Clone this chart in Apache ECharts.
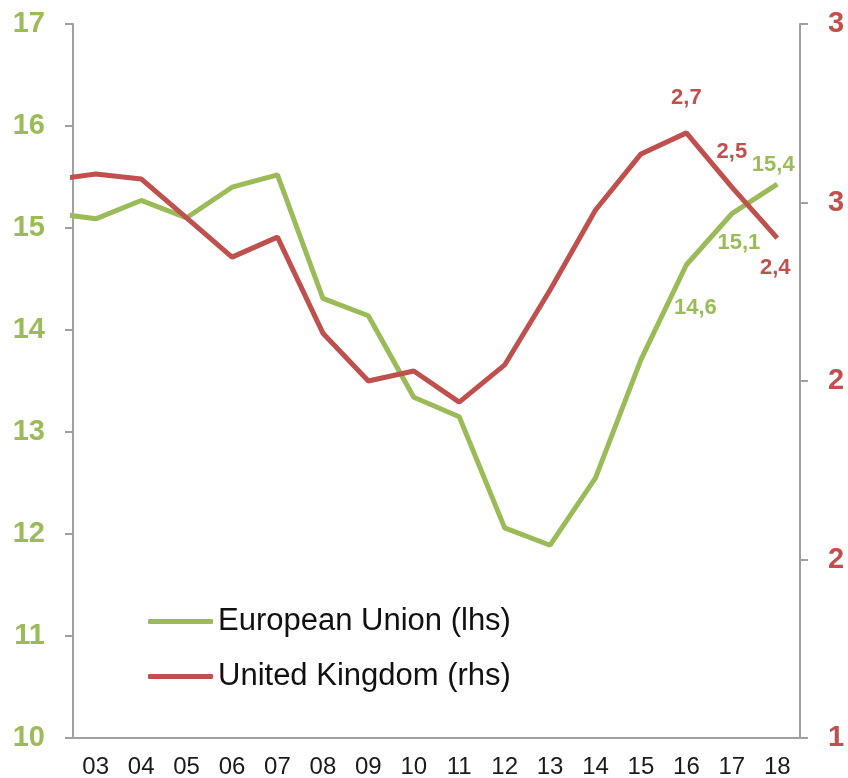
<!DOCTYPE html>
<html>
<head>
<meta charset="utf-8">
<script src="https://cdn.jsdelivr.net/npm/echarts@6/dist/echarts.min.js"></script>
<style>
  html, body { margin: 0; padding: 0; background: #fff; }
  #chart { width: 848px; height: 778px; }
</style>
</head>
<body>
<div id="chart"></div>
<script>
// year axis labels
var categories = ["03","04","05","06","07","08","09","10","11","12","13","14","15","16","17","18"];
// data years (02 sits left of the plot, the line gets clipped at the axis)
var years = [2,3,4,5,6,7,8,9,10,11,12,13,14,15,16,17,18];
var euValues = [15.15,15.09,15.27,15.10,15.40,15.52,14.31,14.14,13.34,13.15,12.06,11.89,12.55,13.71,14.64,15.14,15.43];
var ukValues = [2.562,2.580,2.566,2.457,2.347,2.403,2.134,2.000,2.028,1.941,2.045,2.255,2.479,2.636,2.695,2.543,2.400];
var labelledYears = [16,17,18];

var green = "#9BBB59";
var red = "#C0504D";

// where each value label sits around its point
var euLabelPos = {
  16: { position: "bottom", distance: 32, offset: [9, 0] },
  17: { position: "bottom", distance: 18, offset: [7, 0] },
  18: { position: "top", distance: 8, offset: [-4, 0] }
};
var ukLabelPos = {
  16: { position: "top", distance: 24, offset: [0, 0] },
  17: { position: "top", distance: 24, offset: [0, 0] },
  18: { position: "bottom", distance: 19, offset: [-2, 0] }
};

function fmt(v) {
  return v.toFixed(1).replace(".", ",");
}

function buildData(values, labelPos, color) {
  var out = [];
  for (var i = 0; i < years.length; i++) {
    var item = { value: [years[i], values[i]] };
    if (labelledYears.indexOf(years[i]) >= 0) {
      var p = labelPos[years[i]];
      item.label = {
        show: true,
        position: p.position,
        distance: p.distance,
        offset: p.offset,
        formatter: fmt(values[i]),
        color: color,
        fontFamily: "Liberation Sans, Arial",
        fontWeight: "bold",
        fontSize: 22
      };
    }
    out.push(item);
  }
  return out;
}

var chart = echarts.init(document.getElementById("chart"));
chart.setOption({
  animation: false,
  backgroundColor: "#fff",
  grid: { left: 73, right: 48, top: 24, bottom: 40, outerBoundsMode: "none" },
  legend: {
    orient: "vertical",
    left: 148,
    top: 606,
    padding: 0,
    itemWidth: 65,
    itemHeight: 5,
    itemGap: 24,
    icon: "roundRect",
    textStyle: { fontFamily: "Liberation Sans, Arial", fontSize: 31, color: "#111" },
    data: ["European Union (lhs)", "United Kingdom (rhs)"]
  },
  xAxis: [
    {
      type: "category",
      data: categories,
      boundaryGap: true,
      axisLine: { lineStyle: { color: "#A0A0A0", width: 2 } },
      axisTick: { length: 8, lineStyle: { color: "#A0A0A0", width: 2 } },
      axisLabel: { margin: 17, fontFamily: "Liberation Sans, Arial", fontSize: 24, color: "#1a1a1a" },
      splitLine: { show: false }
    },
    {
      type: "value",
      min: 2.5,
      max: 18.5,
      show: false,
      splitLine: { show: false }
    }
  ],
  yAxis: [
    {
      type: "value",
      min: 10,
      max: 17,
      interval: 1,
      position: "left",
      axisLine: { show: true, lineStyle: { color: "#A0A0A0", width: 2 } },
      axisTick: { show: true, length: 8, lineStyle: { color: "#A0A0A0", width: 2 } },
      axisLabel: { margin: 28, fontFamily: "Liberation Sans, Arial", fontWeight: "bold", fontSize: 29, color: green },
      splitLine: { show: false }
    },
    {
      type: "value",
      min: 1,
      max: 3,
      interval: 0.5,
      position: "right",
      axisLine: { show: true, lineStyle: { color: "#A0A0A0", width: 2 } },
      axisTick: { show: true, length: 8, lineStyle: { color: "#A0A0A0", width: 2 } },
      axisLabel: {
        margin: 28,
        fontFamily: "Liberation Sans, Arial",
        fontWeight: "bold",
        fontSize: 29,
        color: red,
        formatter: function (v) { return String(Math.round(v)); }
      },
      splitLine: { show: false }
    }
  ],
  series: [
    {
      name: "European Union (lhs)",
      type: "line",
      xAxisIndex: 1,
      yAxisIndex: 0,
      clip: true,
      showSymbol: true,
      symbol: "circle",
      symbolSize: 0,
      color: green,
      lineStyle: { color: green, width: 5 },
      data: buildData(euValues, euLabelPos, green)
    },
    {
      name: "United Kingdom (rhs)",
      type: "line",
      xAxisIndex: 1,
      yAxisIndex: 1,
      clip: true,
      showSymbol: true,
      symbol: "circle",
      symbolSize: 0,
      color: red,
      lineStyle: { color: red, width: 5 },
      data: buildData(ukValues, ukLabelPos, red)
    }
  ]
});
</script>
</body>
</html>
